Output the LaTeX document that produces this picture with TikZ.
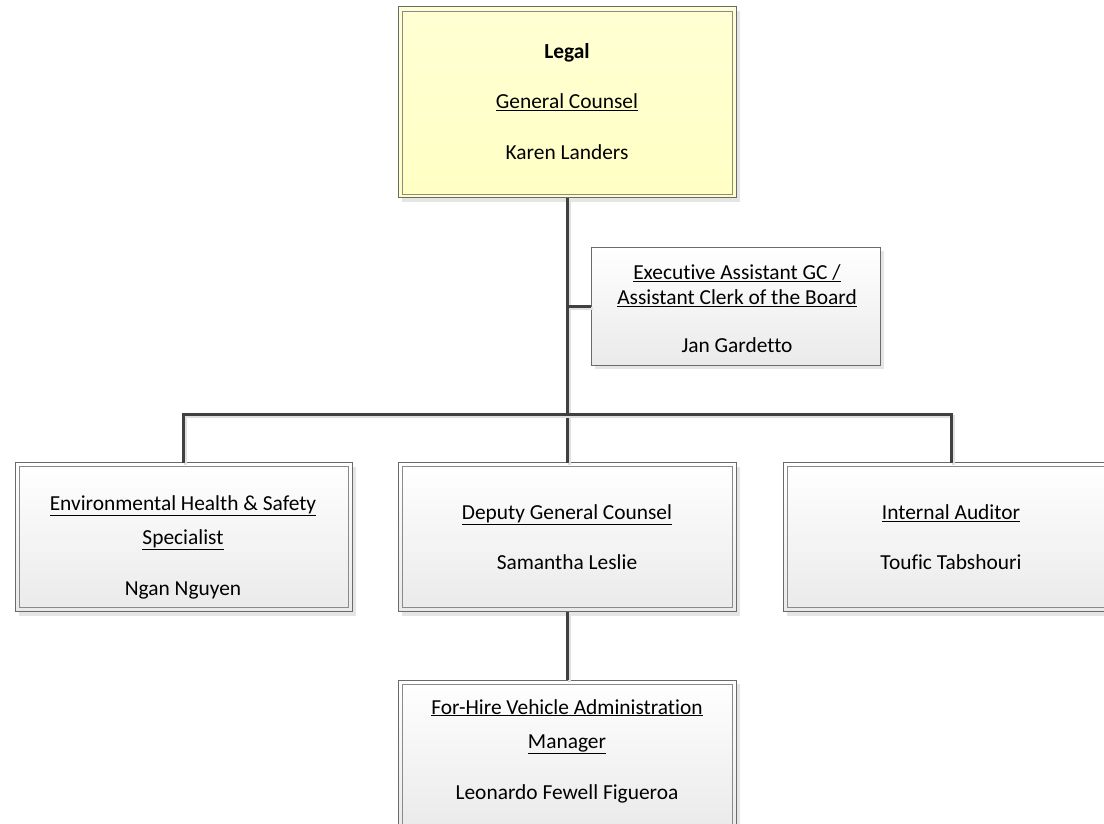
\documentclass[tikz,border=0pt]{standalone}
\usepackage{fontspec}
\setmainfont{Carlito}[Ligatures={NoCommon}]
\usetikzlibrary{shadows}
\definecolor{linec}{HTML}{404040}
\definecolor{bordc}{HTML}{6A6A6A}
\definecolor{innerc}{HTML}{8A8A8A}
\definecolor{gtop}{HTML}{FFFFFF}
\definecolor{gbot}{HTML}{EAEAEA}
\definecolor{ytop}{HTML}{FFFFD4}
\definecolor{ybot}{HTML}{FFFFC4}
\newcommand{\ulx}[1]{\underline{#1}}
\tikzset{
  card/.style={draw=bordc, line width=1pt, inner sep=0pt, outer sep=0pt,
    top color=gtop, bottom color=gbot,
    drop shadow={shadow xshift=4pt, shadow yshift=-4pt, fill=black, opacity=0.10}},
  dblcard/.style={card,
    path picture={\draw[innerc, line width=0.9pt]
      ([shift={(4pt,4pt)}]path picture bounding box.south west) rectangle
      ([shift={(-4pt,-4pt)}]path picture bounding box.north east);}},
  headcard/.style={dblcard, top color=ytop, bottom color=ybot},
  txt/.style={align=center, inner sep=0pt, text=black,
    font=\fontsize{21.4pt}{34pt}\selectfont},
  txtx/.style={align=center, inner sep=0pt, text=black,
    font=\fontsize{21.4pt}{25pt}\selectfont},
  link/.style={draw=linec, line width=3pt,
    preaction={draw=black!12, line width=3pt, transform canvas={xshift=2pt,yshift=-2pt}}}
}
\begin{document}
\begin{tikzpicture}[x=1pt,y=-1pt]
\useasboundingbox (0,0) rectangle (1104,824);
\clip (0,0) rectangle (1104,824);

% boxes
\node[headcard, minimum width=338pt, minimum height=191pt] (legal) at (567,102.5) {};
\node[card, minimum width=289pt, minimum height=118pt] (exec) at (735.5,306) {};
\node[dblcard, minimum width=337pt, minimum height=149pt] (ehs) at (183.5,537) {};
\node[dblcard, minimum width=338pt, minimum height=149pt] (dgc) at (567,537) {};
\node[dblcard, minimum width=337pt, minimum height=149pt] (aud) at (951.5,537) {};
\node[dblcard, minimum width=338pt, minimum height=148pt] (fhv) at (567,754) {};

% connectors
\coordinate (bus) at (567,414);
\draw[link] (legal.south) -- (dgc.north);
\draw[link] (legal.south |- exec.west) -- (exec.west);
\draw[link] (ehs.north) |- (bus) -| (aud.north);
\draw[link] (dgc.south) -- (fhv.north);

% texts
\node[txt] (legalT) at (567,102) {\textbf{Legal}\\[16pt]\ulx{General Counsel}\\[17pt]Karen Landers};
\node[txtx] (execT) at (737,308.5) {\ulx{Executive Assistant GC /}\\\ulx{Assistant Clerk of the Board}\\[23pt]Jan Gardetto};
\node[txt] (ehsT) at (183,547) {\ulx{Environmental Health \& Safety}\\\ulx{Specialist}\\[17pt]Ngan Nguyen};
\node[txt] (dgcT) at (567,537) {\ulx{Deputy General Counsel}\\[16pt]Samantha Leslie};
\node[txt] (audT) at (951,537) {\ulx{Internal Auditor}\\[16pt]Toufic Tabshouri};
\node[txt] (fhvT) at (567,751) {\ulx{For-Hire Vehicle Administration}\\\ulx{Manager}\\[17pt]Leonardo Fewell Figueroa};
\end{tikzpicture}
\end{document}
